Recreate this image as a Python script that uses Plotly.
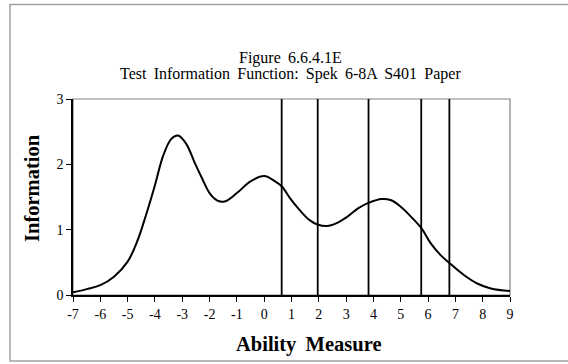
import plotly.graph_objects as go

# Test information curve
ability = [-7.0, -6.5, -6.0, -5.5, -5.0, -4.65, -4.3, -4.0, -3.7, -3.4, -3.15,
           -2.85, -2.55, -2.28, -2.0, -1.73, -1.45, -1.0, -0.5, 0.0, 0.4, 0.65,
           0.95, 1.3, 1.65, 1.95, 2.3, 2.65, 3.05, 3.45, 3.82, 4.3, 4.65,
           5.0, 5.37, 5.76, 6.1, 6.46, 6.78, 7.3, 7.78, 8.3, 9.0]
information = [0.04, 0.09, 0.15, 0.28, 0.51, 0.82, 1.26, 1.68, 2.13, 2.39, 2.44,
               2.31, 2.03, 1.79, 1.56, 1.45, 1.43, 1.56, 1.74, 1.82, 1.74, 1.66,
               1.48, 1.30, 1.15, 1.08, 1.055, 1.10, 1.20, 1.33, 1.41, 1.47, 1.45,
               1.35, 1.20, 1.02, 0.79, 0.61, 0.49, 0.31, 0.18, 0.10, 0.06]

# Vertical reference lines (cut points)
cut_points = [0.64, 1.96, 3.82, 5.75, 6.78]

x_ticks = list(range(-7, 10))
y_ticks = [0, 1, 2, 3]

title_line1 = "Figure 6.6.4.1E"
title_line2 = "Test Information Function: Spek 6-8A S401 Paper"
x_title = "Ability Measure"
y_title = "Information"

FONT = "Liberation Serif, Times New Roman, serif"

def widen(s):
    # slightly wider word gaps, as in the original
    return s.replace(" ", " \u2009")

fig = go.Figure()
fig.add_trace(go.Scatter(x=ability, y=information, mode="lines",
                         line=dict(color="black", width=2, shape="spline", smoothing=1.0),
                         hoverinfo="skip", showlegend=False))
for c in cut_points:
    fig.add_trace(go.Scatter(x=[c, c], y=[0, 3], mode="lines",
                             line=dict(color="black", width=1.8),
                             hoverinfo="skip", showlegend=False))

W, H = 568, 364
L, R, T, B = 73, 58, 99, 69
pw, ph = W - L - R, H - T - B

def px(x):
    return (x - L) / pw

def py(y):
    return (H - B - y) / ph

fig.update_layout(
    width=W, height=H,
    margin=dict(l=L, r=R, t=T, b=B),
    paper_bgcolor="white", plot_bgcolor="white",
    font=dict(family=FONT, color="black", size=14),
    showlegend=False,
    xaxis=dict(range=[-7, 9], tickvals=x_ticks, ticktext=[str(v) for v in x_ticks],
               showgrid=False, zeroline=False, showline=True, linecolor="black",
               linewidth=1.5, ticks="outside", ticklen=5, tickwidth=1.2,
               tickcolor="black", tickfont=dict(size=14, family=FONT)),
    yaxis=dict(range=[0, 3], tickvals=y_ticks, showgrid=False, zeroline=False,
               showline=True, linecolor="black", linewidth=1.5, ticks="outside",
               ticklen=5, tickwidth=1.2, tickcolor="black",
               tickfont=dict(size=14, family=FONT)),
    shapes=[
        # plot-area frame (grey top/right)
        dict(type="rect", xref="paper", yref="paper", x0=0, x1=1, y0=0, y1=1,
             line=dict(color="#808080", width=1.2), layer="below"),
        # outer chart frame
        dict(type="rect", xref="paper", yref="paper",
             x0=px(10), x1=px(580), y0=py(361), y1=py(4.5),
             line=dict(color="#a0a0a0", width=1.5)),
    ],
    annotations=[
        dict(text=widen(title_line1), xref="paper", yref="paper", x=px(290), y=py(58),
             showarrow=False, font=dict(size=16, family=FONT), xanchor="center", yanchor="middle"),
        dict(text=widen(title_line2), xref="paper", yref="paper", x=px(290), y=py(74),
             showarrow=False, font=dict(size=16, family=FONT), xanchor="center", yanchor="middle"),
        dict(text="<b>" + widen(x_title) + "</b>", xref="paper", yref="paper", x=px(309), y=py(344),
             showarrow=False, font=dict(size=20.5, family=FONT), xanchor="center", yanchor="middle"),
        dict(text="<b>" + y_title + "</b>", xref="paper", yref="paper", x=px(32), y=py(188),
             showarrow=False, font=dict(size=20.5, family=FONT), textangle=-90,
             xanchor="center", yanchor="middle"),
    ],
)

fig.write_html("out.html", config={"displayModeBar": False},
               post_script="document.body.style.margin='0';document.body.style.overflow='hidden';")
